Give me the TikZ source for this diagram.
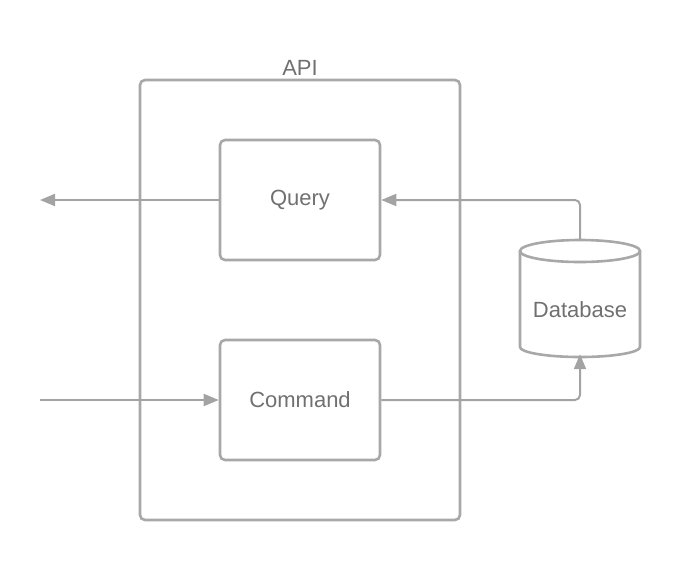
\documentclass[tikz,border=0pt]{standalone}
\usepackage{fontspec}
\setmainfont{Liberation Sans}
\usetikzlibrary{arrows.meta}
\definecolor{linegray}{HTML}{A3A3A3}
\definecolor{boxgray}{HTML}{A8A8A8}
\definecolor{textgray}{HTML}{707070}
\tikzset{
  box/.style={draw=boxgray, line width=2.6pt, rounded corners=5pt, minimum width=160pt, minimum height=120pt, inner sep=0pt},
  lbl/.style={text=textgray, font=\fontsize{22}{26}\selectfont},
  conn/.style={draw=linegray, line width=2pt, rounded corners=5pt, -{Triangle[length=15pt,width=12pt]}},
}
\begin{document}
\begin{tikzpicture}[x=1pt,y=-1pt]
\useasboundingbox (0,0) rectangle (680,560);
\node[box, minimum width=320pt, minimum height=440pt] (api) at (300,300) {};
\node[lbl, anchor=base] (apilbl) at (300,75) {API};
\node[box] (query) at (300,200) {};
\node[lbl] (qlbl) at (300,200.5) {Query};
\node[box] (command) at (300,400) {};
\node[lbl] (clbl) at (300,399.5) {Command};
% database cylinder
\node[inner sep=0pt, minimum width=120pt, minimum height=118pt] (db) at (580,299) {};
\node[lbl] (dbl) at (580,309.5) {Database};
\draw[boxgray, line width=2.6pt]
  (520,251) -- (520,347) arc[start angle=180, end angle=0, x radius=60, y radius=10] -- (640,251);
\draw[boxgray, line width=2.6pt] (580,251) ellipse[x radius=60, y radius=11];
\coordinate (out) at (40,200);
\coordinate (in) at (40,400);
\draw[conn] (query.west) -- (out);
\draw[conn] (in) -- (command.west);
\draw[conn] (db.north) -- (db.north |- query.east) -- (query.east);
\draw[conn] (command.east) -- (command.east -| db.south) -- ([yshift=4pt]db.south);
\end{tikzpicture}
\end{document}
